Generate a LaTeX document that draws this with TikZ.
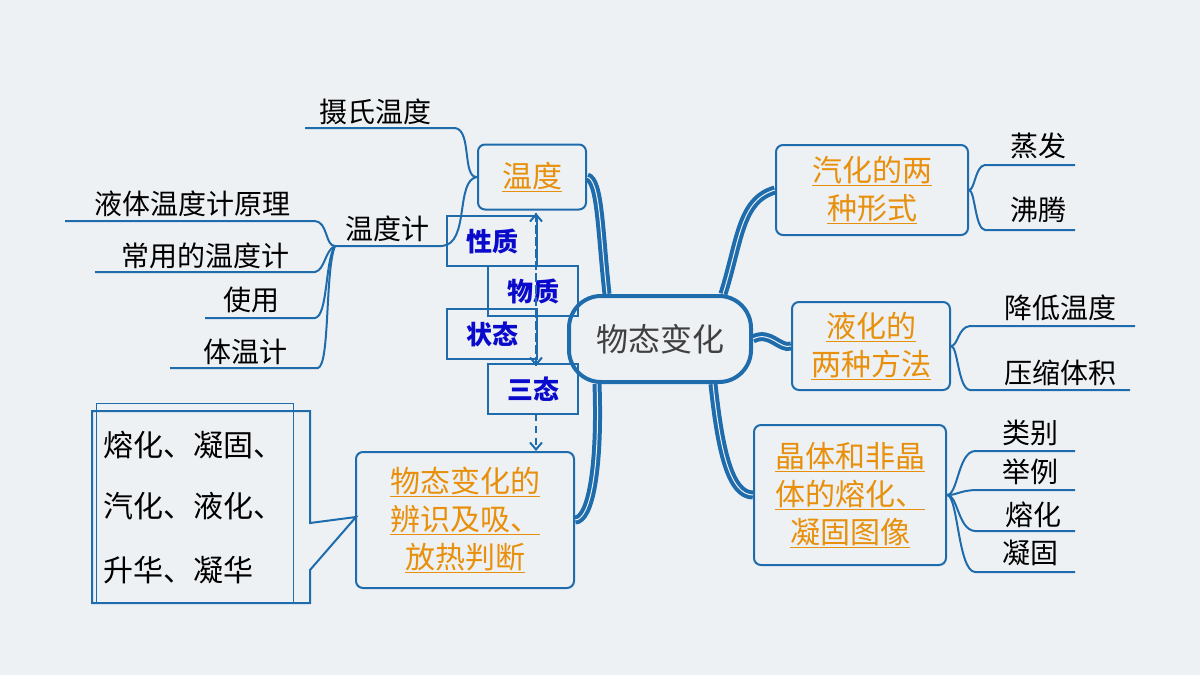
\documentclass[tikz,border=0pt]{standalone}
\usepackage{fontspec}
\newfontfamily\cjk{Noto Sans CJK SC}
\usetikzlibrary{arrows.meta}
\definecolor{lb}{HTML}{1F6CAD}
\definecolor{og}{HTML}{E8900C}
\definecolor{bt}{HTML}{0A0ACC}
\definecolor{bg}{HTML}{EEF1F4}
\begin{document}
\begin{tikzpicture}[x=1pt,y=-1pt,
  bx/.style={draw=lb,line width=2pt,rounded corners=7pt},
  tb/.style={draw=lb,line width=1.2pt,text=bt,font=\cjk\bfseries\fontsize{26}{26}\selectfont,inner sep=0pt,minimum width=90pt,minimum height=50pt},
  ot/.style={text=og,font=\cjk\fontsize{30}{38}\selectfont,align=center},
  lf/.style={font=\cjk\fontsize{28}{28}\selectfont,text=black,inner sep=0pt},
  ul/.style={lb,line width=2pt},
  br/.style={lb,line width=4pt,double=bg,double distance=1pt},
  ar/.style={lb,line width=2pt,dash pattern=on 7pt off 5pt},
  tip/.style={-{Straight Barb[length=7pt,width=12pt,line width=2pt]}}]
\fill[bg] (0,0) rectangle (1200,675);
\useasboundingbox (0,0) rectangle (1200,675);
% centre
\node[draw=lb,line width=4pt,rounded corners=32pt,minimum width=182pt,minimum height=86pt,font=\cjk\fontsize{32}{32}\selectfont,text=black!75] (c) at (660,339) {物态变化};
% boxes
\node[bx,minimum width=108pt,minimum height=65pt] (wd) at (532,177) {};
\node[ot] at (532,177) {\underline{温度}};
\node[bx,minimum width=192pt,minimum height=90pt] (qh) at (872,190) {};
\node[ot] at (872,190) {\underline{汽化的两}\\\underline{种形式}};
\node[bx,minimum width=158pt,minimum height=88pt] (yh) at (871,346) {};
\node[ot] at (871,346) {\underline{液化的}\\\underline{两种方法}};
\node[bx,minimum width=192pt,minimum height=140pt] (jt) at (850,495) {};
\node[ot] at (850,495) {\underline{晶体和非晶}\\\underline{体的熔化、}\\\underline{凝固图像}};
\node[bx,minimum width=218pt,minimum height=136pt] (bs) at (465,520) {};
\node[ot] at (465,520) {\underline{物态变化的}\\\underline{辨识及吸、}\\\underline{放热判断}};
% branches
\draw[br] ([xshift=40pt]c.north west) .. controls (600,230) and (600,180) .. (wd.east);
\draw[br] ([xshift=-30pt]c.north east) .. controls (740,240) and (740,200) .. (qh.west);
\draw[br] (c.east) .. controls (770,330) and (780,350) .. (yh.west);
\draw[br] ([xshift=-40pt]c.south east) .. controls (720,450) and (730,495) .. (jt.west);
\draw[br] ([xshift=30pt]c.south west) .. controls (600,470) and (590,520) .. (bs.east);
% small boxes
\node[tb] (xz) at (492,241) {性质};
\node[tb] (wz) at (533,291) {物质};
\node[tb] (zt) at (492,334) {状态};
\node[tb] (st) at (533,389) {三态};
\coordinate (a1) at (536,213);
\coordinate (a2) at (536,366);
\coordinate (a3) at (536,414);
\draw[ar,tip] (a2) -- (a1);
\draw[ar,tip] (a1) -- (a2);
\draw[ar,tip] (a3) -- (bs.north -| a3);
% left: temperature
\node[lf] (ss) at (375,112) {摄氏温度};
\coordinate (ss1) at (305,128); \coordinate (ss2) at (455,128);
\draw[ul] (ss1) -- (ss2) .. controls (472,130) and (462,178) .. (wd.west);
\node[lf] (wdj) at (387,229) {温度计};
\coordinate (w1) at (335,246); \coordinate (w2) at (442,246);
\draw[ul] (w1) -- (w2) .. controls (470,244) and (455,180) .. (wd.west);
\node[lf] (l1) at (192,204) {液体温度计原理};
\node[lf] (l2) at (205,256) {常用的温度计};
\node[lf] (l3) at (251,300) {使用};
\node[lf] (l4) at (245,352) {体温计};
\coordinate (u1) at (65,221); \coordinate (v1) at (315,221);
\coordinate (u2) at (95,272); \coordinate (v2) at (315,272);
\coordinate (u3) at (205,318); \coordinate (v3) at (315,318);
\coordinate (u4) at (170,368); \coordinate (v4) at (318,368);
\draw[ul] (u1) -- (v1) .. controls (328,222) and (325,246) .. (w1);
\draw[ul] (u2) -- (v2) .. controls (325,270) and (325,250) .. (w1);
\draw[ul] (u3) -- (v3) .. controls (328,316) and (325,260) .. (w1);
\draw[ul] (u4) -- (v4) .. controls (330,365) and (325,270) .. (w1);
% list box
\draw[lb,line width=1pt] (96,403) rectangle (293,603);
\draw[lb,line width=2pt] (356,517) -- (310,570) -- (310,603) -- (92,603) -- (92,411) -- (310,411) -- (310,523) -- cycle;
\node[lf,anchor=west,font=\cjk\fontsize{30}{30}\selectfont] (m1) at (103,445) {熔化、凝固、};
\node[lf,anchor=west,font=\cjk\fontsize{30}{30}\selectfont] (m2) at (103,506) {汽化、液化、};
\node[lf,anchor=west,font=\cjk\fontsize{30}{30}\selectfont] (m3) at (103,570) {升华、凝华};
% right leaves
\node[lf] (r1) at (1038,146) {蒸发};
\node[lf] (r2) at (1038,210) {沸腾};
\coordinate (p1) at (985,165); \coordinate (q1) at (1075,165);
\coordinate (p2) at (985,230); \coordinate (q2) at (1075,230);
\draw[ul] (q1) -- (p1) .. controls (975,166) and (975,190) .. (qh.east);
\draw[ul] (q2) -- (p2) .. controls (975,229) and (975,190) .. (qh.east);
\node[lf] (r3) at (1060,308) {降低温度};
\node[lf] (r4) at (1060,373) {压缩体积};
\coordinate (p3) at (970,326); \coordinate (q3) at (1135,326);
\coordinate (p4) at (970,390); \coordinate (q4) at (1130,390);
\draw[ul] (q3) -- (p3) .. controls (958,327) and (958,346) .. (yh.east);
\draw[ul] (q4) -- (p4) .. controls (958,389) and (958,346) .. (yh.east);
\node[lf] (r5) at (1030,433) {类别};
\node[lf] (r6) at (1030,472) {举例};
\node[lf] (r7) at (1033,515) {熔化};
\node[lf] (r8) at (1030,553) {凝固};
\coordinate (p5) at (975,451); \coordinate (q5) at (1075,451);
\coordinate (p6) at (975,490); \coordinate (q6) at (1075,490);
\coordinate (p7) at (975,531); \coordinate (q7) at (1075,531);
\coordinate (p8) at (975,572); \coordinate (q8) at (1075,572);
\draw[ul] (q5) -- (p5) .. controls (958,452) and (958,495) .. (jt.east);
\draw[ul] (q6) -- (p6) .. controls (958,491) and (958,495) .. (jt.east);
\draw[ul] (q7) -- (p7) .. controls (958,530) and (958,495) .. (jt.east);
\draw[ul] (q8) -- (p8) .. controls (958,571) and (958,495) .. (jt.east);
\end{tikzpicture}
\end{document}
